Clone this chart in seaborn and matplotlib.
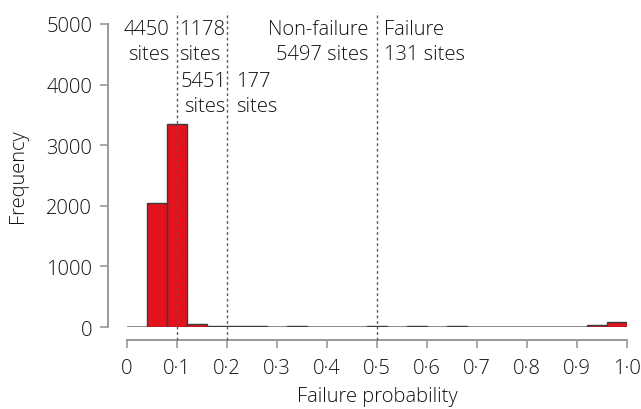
import numpy as np
import pandas as pd
import matplotlib
matplotlib.use("Agg")
import matplotlib.pyplot as plt
import seaborn as sns

# Histogram data (bin width 0.04, 0 to 1)
bin_edges = [round(0.04 * i, 2) for i in range(26)]
bin_centers = [round(0.02 + 0.04 * i, 2) for i in range(25)]
counts = [0, 2040, 3350, 50, 11, 12, 12, 0, 10, 0, 0, 0, 12, 0, 12, 0, 12,
          0, 0, 0, 0, 0, 0, 25, 82]

threshold_lines = [0.1, 0.2, 0.5]
x_ticks = [0, 0.1, 0.2, 0.3, 0.4, 0.5, 0.6, 0.7, 0.8, 0.9, 1.0]
x_tick_labels = ["0", "0·1", "0·2", "0·3", "0·4", "0·5", "0·6", "0·7", "0·8", "0·9", "1·0"]
y_ticks = [0, 1000, 2000, 3000, 4000, 5000]

df = pd.DataFrame({"prob": bin_centers, "count": counts})

sns.set_style("ticks")
plt.rcParams["font.family"] = ["Open Sans", "DejaVu Sans"]
plt.rcParams["font.weight"] = "light"
FS = 14.5
plt.rcParams["font.size"] = FS
TXT = "#111111"

fig = plt.figure(figsize=(6.41, 4.10), dpi=100)
ax = fig.add_axes([127 / 641, 1 - 328 / 410, 500 / 641, 303 / 410])

ax.axhline(0, color="#808080", linewidth=1.8, zorder=1)
sns.histplot(data=df, x="prob", weights="count", bins=bin_edges, ax=ax,
             color="#e3121c", alpha=1, edgecolor="#3c3c3c", linewidth=1.0, zorder=2)

ax.set_xlim(0, 1.0)
ax.set_ylim(0, 5000)
ax.set_xticks(x_ticks)
ax.set_xticklabels(x_tick_labels)
ax.set_yticks(y_ticks)
ax.set_xlabel("Failure probability", fontsize=FS, color=TXT, labelpad=6,
              fontweight="light")
ax.set_ylabel("Frequency", fontsize=FS, color=TXT, labelpad=13,
              fontweight="light")
ax.tick_params(axis="both", colors="#999999", labelcolor=TXT, labelsize=FS,
               length=6, width=1.2, pad=5)
ax.tick_params(axis="x", pad=7)

sns.despine(ax=ax, offset={"left": 14, "bottom": 9}, trim=True)
for s in ("left", "bottom"):
    ax.spines[s].set_color("#999999")
    ax.spines[s].set_linewidth(1.4)

for xv in threshold_lines:
    ax.axvline(xv, ymin=-13 / 303, ymax=1 + 12 / 303, color="#5a5a5a",
               linestyle=(0, (2, 2)), linewidth=1, clip_on=False, zorder=5)

txt_kw = dict(fontsize=FS, color=TXT, va="top", linespacing=1.3,
              fontweight="light")
ax.text(0.085, 5080, "4450\nsites", ha="right", multialignment="right", **txt_kw)
ax.text(0.104, 5080, "1178\nsites", ha="left", **txt_kw)
ax.text(0.198, 4220, "5451\nsites", ha="right", multialignment="right", **txt_kw)
ax.text(0.218, 4220, "177\nsites", ha="left", **txt_kw)
ax.text(0.482, 5080, "Non-failure\n5497 sites", ha="right", multialignment="right", **txt_kw)
ax.text(0.513, 5080, "Failure\n131 sites", ha="left", **txt_kw)

fig.savefig("out.png", dpi=100)
